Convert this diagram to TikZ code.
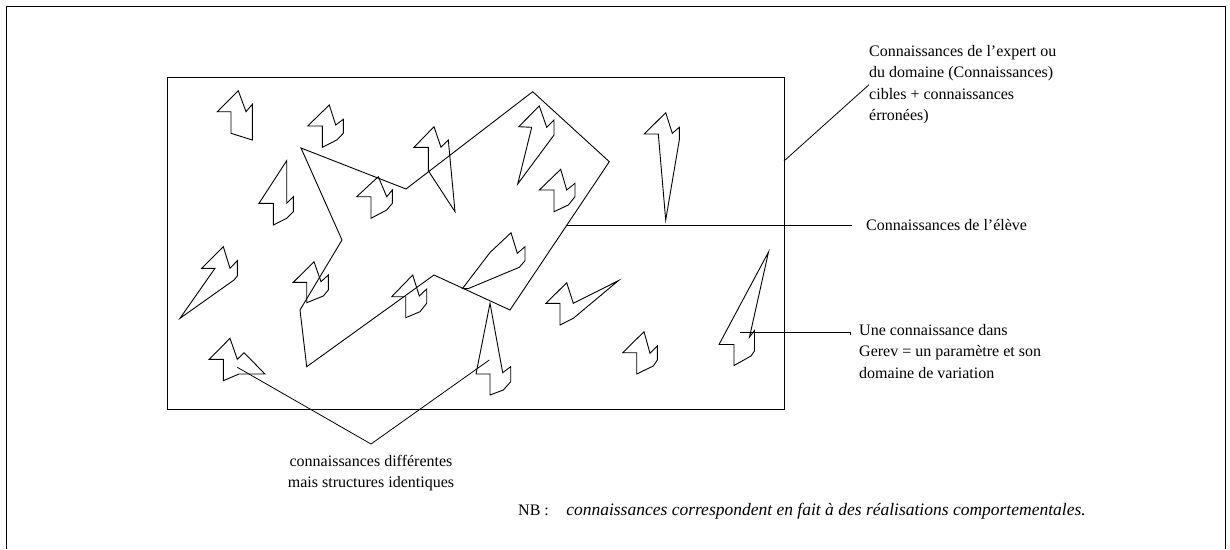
\documentclass[tikz,border=0pt]{standalone}
\usepackage{fontspec}
\setmainfont{Liberation Serif}
\usetikzlibrary{positioning}

\begin{document}
\begin{tikzpicture}[x=1pt,y=-1pt,
  knowledge/.style={draw,line width=0.9pt,line join=miter},
  leader/.style={line width=0.8pt},
  labeltext/.style={font=\fontsize{16}{21.5}\selectfont,align=left,inner sep=0pt}]
 \useasboundingbox (0,0) rectangle (1230,549);
 \draw[line width=1pt] (6,549) -- (6,6) -- (1225,6) -- (1225,549);
 \draw[line width=1pt] (167,77) rectangle (784,409);
 % connaissances de l'eleve
 \draw[knowledge] (301,148) -- (406,189) -- (532.7,91.7) -- (609.3,161.7) -- (510,310)
   -- (434,275) -- (306.7,366.7) -- (300,310) -- (342,240) -- cycle;
 \draw[knowledge] (238.3,90.7) -- (246,111.7) -- (252.3,104.3) -- (252.3,140) -- (231,133.3) -- (231,111.7) -- (217.3,111.7) -- cycle;
 \draw[knowledge] (329.3,105) -- (335.7,125) -- (343.3,119.3) -- (343.3,133.3) -- (336.7,140) -- (322.3,147.3) -- (322.3,126) -- (307.7,126) -- cycle;
 \draw[knowledge] (286.7,160.7) -- (286.7,203.3) -- (293.3,196.7) -- (293.3,211.7) -- (286.7,218.3) -- (273.3,225) -- (273.3,203.3) -- (259,203.3) -- cycle;
 \draw[knowledge] (378.3,176.7) -- (386.7,196.7) -- (392.3,190) -- (392.3,203.3) -- (386.7,210) -- (371,218.3) -- (371,196.7) -- (356.7,196.7) -- cycle;
 \draw[knowledge] (434,126.7) -- (441,147.3) -- (448.3,140) -- (455,211.7) -- (428.3,170.7) -- (428.3,147.3) -- (414,147.3) -- cycle;
 \draw[knowledge] (539.3,106) -- (546.7,127.3) -- (554,120) -- (554,135) -- (517.7,184) -- (531.7,127.3) -- (518.7,126.7) -- cycle;
 \draw[knowledge] (560.7,169.3) -- (566.7,190) -- (575,183.3) -- (575,196.7) -- (568.3,205) -- (554,211.7) -- (554,190) -- (539.3,190) -- cycle;
 \draw[knowledge] (665.7,112.7) -- (672.3,133.3) -- (679.3,127.3) -- (679.3,140) -- (665.7,220) -- (658.3,134) -- (644.3,134) -- cycle;
 \draw[knowledge] (223.3,246.7) -- (230,268.3) -- (237.3,260.7) -- (237.3,276) -- (234,280) -- (180,318.3) -- (215,268.3) -- (201.7,268.3) -- cycle;
 \draw[knowledge] (314,261.7) -- (321,281.7) -- (328.3,275) -- (328.3,290) -- (323.3,296) -- (306.7,302.7) -- (306.7,282.3) -- (293.3,282.3) -- cycle;
 \draw[knowledge] (412.7,275) -- (419.3,296) -- (426.7,289) -- (426.7,303.3) -- (420,311.7) -- (405.7,317.7) -- (405.7,296.7) -- (391.7,296.7) -- cycle;
 \draw[knowledge] (230,338.3) -- (237.3,359.3) -- (244,352.7) -- (265,374) -- (239,374) -- (223.3,380.7) -- (223.3,359.3) -- (209.3,359.3) -- cycle;
 \draw[knowledge] (511,232.7) -- (517.3,253.3) -- (525,246.7) -- (525,260.7) -- (519.3,267.3) -- (468,288.7) -- (462.5,288.5) -- (490,252.5) -- cycle;
 \draw[knowledge] (566.7,282.7) -- (573.3,303.3) -- (618.3,280.7) -- (573.3,318.3) -- (560,325) -- (560,303.3) -- (546,303.3) -- cycle;
 \draw[knowledge] (490,303.3) -- (502.7,372.7) -- (510.7,366.7) -- (510.7,381.7) -- (503.3,390) -- (490,395) -- (490,374) -- (476,374) -- cycle;
 \draw[knowledge] (644,331.7) -- (650,353.3) -- (657.3,346) -- (657.3,360) -- (653.3,366) -- (636.7,374) -- (636.7,352.7) -- (622.7,352.7) -- cycle;
 \draw[knowledge] (768.5,252) -- (749.5,337) -- (754.5,330.5) -- (754.5,351) -- (751,356) -- (734,365.5) -- (734,344.5) -- (719,344.5) -- cycle;
 % labels
 \coordinate (frame right) at (784,161);
 \coordinate (eleve edge) at (567,225);
 \coordinate (gerev start) at (740,332);
 \coordinate (gerev end) at (850,332);
 \coordinate (left same) at (237.3,367.3);
 \coordinate (right same) at (489.3,360);
 \coordinate (apex) at (371,444);
 \node (expert) [labeltext,anchor=north west] at (869,45)
   {Connaissances de l'expert ou\\du domaine (Connaissances)\\cibles + connaissances\\érronées)};
 \node (eleve) [labeltext,anchor=west,inner xsep=14pt] at (852,225) {Connaissances de l'élève};
 \node (gerev) [labeltext,anchor=north west] at (859,324)
   {Une connaissance dans\\Gerev = un paramètre et son\\domaine de variation};
 \node (diff) [labeltext,align=center,below=11pt of apex]
   {connaissances différentes\\mais structures identiques};
 \node (nb) [labeltext,anchor=base west] at (518,515) {NB :};
 \node (nb text) [labeltext,font=\fontsize{17.5}{21.5}\selectfont\itshape,base right=17pt of nb]
   {connaissances correspondent en fait à des réalisations comportementales.};
 \draw[leader] (frame right) -- (expert.west);
 \draw[leader] (eleve edge) -- (eleve.west);
 \draw[leader] (gerev start) -- (gerev end) -- ++(0,3);
 \draw[leader] (left same) -- (apex) -- (right same);
\end{tikzpicture}
\end{document}
